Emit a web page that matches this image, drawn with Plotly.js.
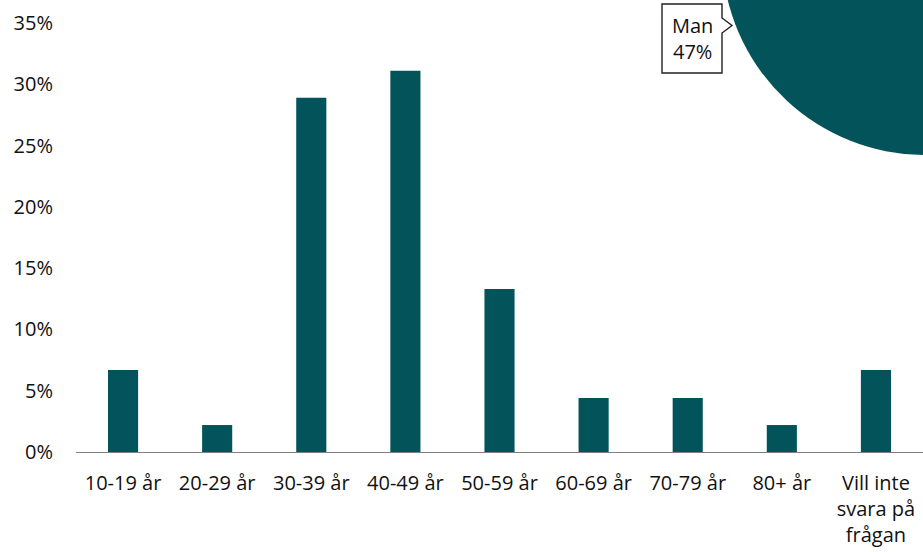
<!DOCTYPE html>
<html>
<head>
<meta charset="utf-8">
<script src="https://cdn.plot.ly/plotly-3.0.1.min.js"></script>
<style>
  html, body { margin: 0; padding: 0; width: 923px; height: 552px; overflow: hidden; background: #fff; }
  #chart { position: absolute; left: 0; top: -300px; width: 1180px; height: 852px; }
</style>
</head>
<body>
<div id="chart"></div>
<script>
// Age distribution (share of respondents)
const categories = ['10-19 år', '20-29 år', '30-39 år', '40-49 år', '50-59 år', '60-69 år', '70-79 år', '80+ år', 'Vill inte<br>svara på<br>frågan'];
const shares = [0.067, 0.022, 0.289, 0.311, 0.133, 0.044, 0.044, 0.022, 0.067];
const yTickVals = [0, 0.05, 0.10, 0.15, 0.20, 0.25, 0.30, 0.35];

// Gender pie (only part visible)
const pieLabels = ['Man', 'Kvinna'];
const pieValues = [47, 53];

const teal = '#03545A';
const font = { family: 'Open Sans, sans-serif', size: 20, color: '#111' };

const W = 1180, H = 852, TOP = 300;
const fx = v => v / W;
const fy = v => (H - (v + TOP)) / H; // viewport y (top-down) -> paper fraction

const data = [
  {
    type: 'bar',
    x: categories,
    y: shares,
    marker: { color: teal },
    hoverinfo: 'skip'
  },
  {
    type: 'pie',
    labels: pieLabels,
    values: pieValues,
    sort: false,
    direction: 'clockwise',
    rotation: 170,
    textinfo: 'none',
    hoverinfo: 'skip',
    showlegend: false,
    marker: { colors: [teal, '#9cc3c5'], line: { width: 0 } },
    domain: { x: [fx(722), fx(1128)], y: [fy(155), fy(-251)] }
  }
];

// callout box outline (label box with pointer toward the pie)
const bx0 = 662, bx1 = 722, by0 = 4, by1 = 73;
const calloutPath = 'M ' + fx(bx0) + ',' + fy(by0) +
  ' L ' + fx(bx1) + ',' + fy(by0) +
  ' L ' + fx(bx1) + ',' + fy(18) +
  ' L ' + fx(732) + ',' + fy(25.5) +
  ' L ' + fx(bx1) + ',' + fy(33) +
  ' L ' + fx(bx1) + ',' + fy(by1) +
  ' L ' + fx(bx0) + ',' + fy(by1) + ' Z';

const layout = {
  width: W,
  height: H,
  margin: { l: 0, r: 0, t: 0, b: 0 },
  paper_bgcolor: '#fff',
  plot_bgcolor: 'rgba(0,0,0,0)',
  showlegend: false,
  font: font,
  bargap: 0.68,
  xaxis: {
    domain: [fx(76), fx(923)],
    showline: true,
    linecolor: '#808080',
    linewidth: 1.2,
    showgrid: false,
    zeroline: false,
    ticks: '',
    tickfont: font,
    ticklabelstandoff: 13
  },
  yaxis: {
    domain: [fy(452), fy(23)],
    range: [0, 0.35],
    tickvals: yTickVals,
    tickformat: '.0%',
    showgrid: false,
    zeroline: false,
    showline: false,
    ticks: '',
    tickfont: font,
    ticklabelstandoff: 22
  },
  shapes: [
    {
      type: 'path',
      xref: 'paper', yref: 'paper',
      path: calloutPath,
      fillcolor: '#fff',
      line: { color: '#222', width: 1.4 },
      layer: 'above'
    }
  ],
  annotations: [
    {
      xref: 'paper', yref: 'paper',
      x: fx((bx0 + bx1) / 2), y: fy((by0 + by1) / 2),
      xanchor: 'center', yanchor: 'middle',
      text: pieLabels[0] + '<br>' + pieValues[0] + '%',
      showarrow: false,
      align: 'center',
      font: { family: 'Open Sans, sans-serif', size: 20, color: '#111' }
    }
  ]
};

Plotly.newPlot('chart', data, layout, { displayModeBar: false, staticPlot: true });
</script>
</body>
</html>
